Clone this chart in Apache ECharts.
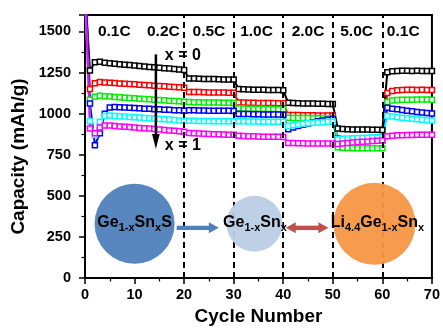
<!DOCTYPE html>
<html><head><meta charset="utf-8">
<script src="https://cdn.jsdelivr.net/npm/echarts@6/dist/echarts.min.js"></script>
<style>html,body{margin:0;padding:0;background:#fff}#c{width:443px;height:331px}</style>
</head><body><div id="c"></div>
<script>
// Cycle numbers (cycle 0 is the very high first point, clipped by the frame)
const cycles = [0,1,2,3,4,5,6,7,8,9,10,11,12,13,14,15,16,17,18,19,20,21,22,23,24,25,26,27,28,29,30,31,32,33,34,35,36,37,38,39,40,41,42,43,44,45,46,47,48,49,50,51,52,53,54,55,56,57,58,59,60,61,62,63,64,65,66,67,68,69,70];

const capX0 = [1760,1262,
1312,1315,1310,1306,1304,1300,1298,1296,1293,
1290,1286,1284,1282,1279,1276,1274,1271,1268,1265,
1214,1213,1212,1211,1210,1210,1209,1208,1207,1207,
1150,1148,1147,1146,1146,1145,1144,1144,1143,1142,
1066,1064,1063,1062,1062,1061,1060,1060,1059,1058,
910,906,905,904,904,903,903,902,902,901,
1252,1258,1260,1261,1261,1260,1261,1260,1260,1259];

const capX02 = [1720,1150,
1185,1192,1190,1188,1186,1184,1182,1180,1178,
1176,1174,1172,1170,1168,1166,1164,1162,1160,1158,
1132,1131,1131,1130,1129,1129,1128,1128,1127,1127,
1068,1067,1066,1066,1065,1065,1064,1064,1063,1063,
992,991,991,990,990,990,989,989,989,988,
850,842,840,838,838,837,838,838,839,840,
1125,1138,1142,1144,1145,1145,1144,1145,1144,1144];

const capX04 = [1810,1085,
1102,1108,1106,1104,1101,1099,1097,1095,1093,
1091,1089,1087,1085,1083,1081,1079,1077,1075,1073,
1070,1069,1069,1068,1068,1067,1067,1066,1066,1065,
1032,1031,1030,1030,1029,1029,1028,1028,1027,1027,
975,974,974,973,973,972,972,971,971,970,
795,792,791,790,790,789,789,790,790,790,
1070,1080,1083,1084,1085,1085,1086,1086,1086,1085];

const capX06 = [1850,1062,
807,880,1000,1038,1040,1039,1037,1036,1034,
1032,1030,1029,1027,1026,1024,1023,1021,1020,1018,
1020,1020,1019,1019,1018,1018,1018,1017,1017,1016,
998,997,997,996,996,995,995,994,994,993,
905,915,925,933,940,947,953,958,963,968,
828,832,836,840,843,846,849,852,855,858,
1035,1030,1026,1022,1018,1014,1010,1007,1004,1001];

const capX08 = [1700,955,
870,950,985,988,986,984,982,980,978,
976,974,972,970,968,966,964,961,958,955,
956,956,955,955,955,954,954,954,953,953,
953,953,952,952,952,951,951,951,950,950,
925,930,934,938,941,944,946,948,950,951,
845,847,849,850,851,852,853,854,855,856,
985,982,978,975,972,969,966,963,960,958];

const capX1 = [1780,910,
880,915,928,927,925,922,920,918,916,
913,911,909,906,903,901,898,896,893,890,
882,880,879,877,876,875,874,873,872,871,
865,864,863,862,861,860,860,859,859,858,
822,821,820,820,819,819,819,818,818,818,
815,818,821,824,827,829,831,833,835,837,
862,866,868,869,870,870,871,871,872,872];

const seriesNames = ['x = 0','x = 0.2','x = 0.4','x = 0.6','x = 0.8','x = 1'];
const seriesValues = [capX0, capX02, capX04, capX06, capX08, capX1];
const seriesColors = ['#000000','#ff0000','#00ee00','#0000ff','#00ffff','#ff00ff'];

const rateBoundaries = [20,30,40,50,60];
const rateLabels = ['0.1C','0.2C','0.5C','1.0C','2.0C','5.0C','0.1C'];
const xTicks = [0,10,20,30,40,50,60,70];
const yTicks = [0,250,500,750,1000,1250,1500];

const FONT = '"Liberation Sans", Arial, sans-serif';
const chart = echarts.init(document.getElementById('c'), null, {renderer:'canvas'});

const series = seriesNames.map((n,i)=>({
  name:n, type:'line',
  data: cycles.map((c,j)=>[c, seriesValues[i][j]]),
  symbol:'rect', symbolSize:5, showAllSymbol:true,
  lineStyle:{color:seriesColors[i], width:2},
  itemStyle:{color:'#fff', borderColor:seriesColors[i], borderWidth:1.5},
  clip:true, silent:true, z:3
}));
series[0].markLine = {
  silent:true, symbol:['none','none'], animation:false,
  label:{show:false},
  lineStyle:{color:'#000', type:[6,4], width:2},
  data: rateBoundaries.map(v=>({xAxis:v}))
};

const axisCommon = {
  axisLine:{show:true, onZero:false, lineStyle:{color:'#000', width:2}},
  axisTick:{show:true, inside:false, length:6, lineStyle:{color:'#000', width:1.5}},
  minorTick:{show:true, splitNumber:2, length:3.5, lineStyle:{color:'#000', width:1.2}},
  splitLine:{show:false},
  nameTextStyle:{fontFamily:FONT, fontWeight:'bold', fontSize:19, color:'#000'}
};

chart.setOption({
  animation:false,
  backgroundColor:'#fff',
  grid:{left:85, right:10, top:15, bottom:50, show:true, borderColor:'#000', borderWidth:2, backgroundColor:'transparent'},
  xAxis:Object.assign({}, axisCommon, {
    type:'value', min:xTicks[0], max:xTicks[xTicks.length-1], interval:10,
    name:'Cycle Number', nameLocation:'middle', nameGap:29,
    axisLabel:{fontFamily:FONT, fontWeight:'bold', fontSize:14.5, color:'#000', margin:9}
  }),
  yAxis:Object.assign({}, axisCommon, {
    type:'value', min:yTicks[0], max:1600, interval:250,
    name:'Capacity (mAh/g)', nameLocation:'middle', nameGap:52,
    nameTextStyle:{fontFamily:FONT, fontWeight:'bold', fontSize:19, color:'#000', padding:[0,20,0,0]},
    axisLabel:{fontFamily:FONT, fontWeight:'bold', fontSize:14.5, color:'#000', margin:14, showMaxLabel:false,
      formatter:v=> (yTicks.indexOf(v)>=0 ? String(v) : '')}
  }),
  series
});

const P = (x,y)=>chart.convertToPixel({gridIndex:0},[x,y]);
const g = [];
// rate labels
const rateLabelX = [2.6,12.5,21.7,31.3,41.7,51.5,60.9];
rateLabels.forEach((t,i)=>{
  const p = P(rateLabelX[i],1500);
  g.push({type:'text', x:p[0], y:p[1], z:30, silent:true,
    style:{text:t, fontFamily:FONT, fontWeight:'bold', fontSize:15.5, fill:'#000', align:'left', verticalAlign:'middle'}});
});
// trend arrow x = 0 -> x = 1
{
  const a = P(14.3,1360), b = P(14.3,785);
  g.push({type:'line', z:30, silent:true, shape:{x1:a[0],y1:a[1],x2:b[0],y2:b[1]-12}, style:{stroke:'#000', lineWidth:2.5}});
  g.push({type:'polygon', z:30, silent:true, shape:{points:[[b[0]-3.8,b[1]-15],[b[0]+3.8,b[1]-15],[b[0],b[1]]]}, style:{fill:'#000'}});
  const t0 = P(16.1,1353), t1 = P(16.1,805);
  g.push({type:'text', x:t0[0], y:t0[1], z:30, silent:true, style:{text:'x = 0', fontFamily:FONT, fontWeight:'bold', fontSize:16, fill:'#000', align:'left', verticalAlign:'middle'}});
  g.push({type:'text', x:t1[0], y:t1[1], z:30, silent:true, style:{text:'x = 1', fontFamily:FONT, fontWeight:'bold', fontSize:16, fill:'#000', align:'left', verticalAlign:'middle'}});
}
// schematic circles
const rich = (col)=>({
  a:{fontFamily:FONT, fontWeight:'bold', fontSize:16, color:col, lineHeight:18},
  s:{fontFamily:FONT, fontWeight:'bold', fontSize:11, color:col, lineHeight:11, padding:[12,0,0,0]}
});
const circ = [
  {x:10, r:40, fill:'#4f7fba', text:'{a|Ge}{s|1-x}{a|Sn}{s|x}{a|S}', col:'#fff'},
  {x:34.2, r:28, fill:'#b9cde5', text:'{a|Ge}{s|1-x}{a|Sn}{s|x}', col:'#000'},
  {x:58.4, r:41, fill:'#f79646', text:'{a|Li}{s|4.4}{a|Ge}{s|1-x}{a|Sn}{s|x}', col:'#000'}
];
const textX = [10, 34.3, 59.0];
circ.forEach((c,i)=>{
  const p = P(c.x, 330);
  g.push({type:'circle', z:20, silent:true, shape:{cx:p[0], cy:p[1], r:c.r}, style:{fill:c.fill, opacity:0.95}});
});
// arrows
{
  const a = P(18.5,305), b = P(27.0,305);
  const y = a[1];
  g.push({type:'rect', z:22, silent:true, shape:{x:a[0], y:y-2.2, width:b[0]-a[0]-9, height:4.4}, style:{fill:'#4f81bd'}});
  g.push({type:'polygon', z:22, silent:true, shape:{points:[[b[0]-10,y-5.5],[b[0],y],[b[0]-10,y+5.5]]}, style:{fill:'#4f81bd'}});
  const c = P(40.5,305), d = P(49.1,305);
  g.push({type:'rect', z:22, silent:true, shape:{x:c[0]+9, y:y-2.2, width:d[0]-c[0]-18, height:4.4}, style:{fill:'#c0504d'}});
  g.push({type:'polygon', z:22, silent:true, shape:{points:[[c[0]+10,y-5.5],[c[0],y],[c[0]+10,y+5.5]]}, style:{fill:'#c0504d'}});
  g.push({type:'polygon', z:22, silent:true, shape:{points:[[d[0]-10,y-5.5],[d[0],y],[d[0]-10,y+5.5]]}, style:{fill:'#c0504d'}});
}
circ.forEach((c,i)=>{
  const p = P(textX[i], 338);
  g.push({type:'text', z:25, silent:true, x:p[0], y:p[1],
    style:{text:c.text, rich:rich(c.col), align:'center', verticalAlign:'middle'}});
});
chart.setOption({graphic:g});
</script></body></html>
